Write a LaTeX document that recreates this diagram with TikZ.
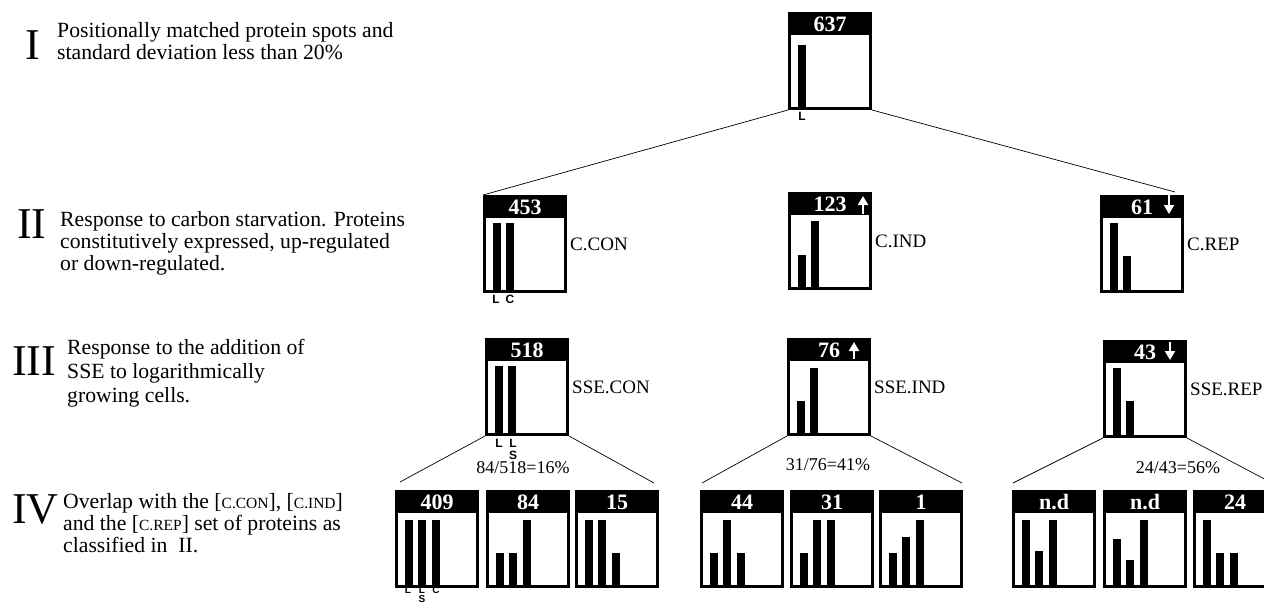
\documentclass[tikz,border=0pt]{standalone}
\usepackage{fontspec}
\setmainfont{Liberation Serif}
\setsansfont{Liberation Sans}
\usetikzlibrary{arrows.meta,positioning,calc}

\newcommand{\smc}[1]{{\fontsize{15.5}{15.5}\selectfont #1}}
% box with black header, number and bars (heights in px)
\newcommand{\protbox}[4]{%
  \node[pbox] (#1) at (#2) {};
  \fill (#1.north west) rectangle ($(#1.north east)+(0,23)$);
  \node[headtxt] (#1h) at ($(#1.north)+(0,19.5)$) {#3};
  \foreach \h [count=\i] in {#4}
    \fill ($(#1.south west)+(13.5*\i-4,0)$) rectangle ++(8,-\h);
}

\begin{document}
\begin{tikzpicture}[x=1pt, y=-1pt,
  pbox/.style={draw, line width=3pt, minimum width=81pt, minimum height=95pt, inner sep=0pt, anchor=north west},
  headtxt/.style={text=white, font=\bfseries\fontsize{22}{22}\selectfont, inner sep=0pt, anchor=base},
  harrow/.style={white, line width=2pt, -{Triangle[width=10pt,length=9pt]}},
  numeral/.style={font=\fontsize{44}{44}\selectfont, inner sep=0pt, anchor=base west},
  desc/.style={align=left, font=\fontsize{21.7}{22}\selectfont, inner sep=0pt, anchor=north west},
  side/.style={font=\fontsize{19}{19}\selectfont, inner sep=0pt},
  ratio/.style={font=\fontsize{18}{18}\selectfont, inner sep=0pt},
  tick/.style={font=\sffamily\bfseries\fontsize{12}{12}\selectfont, inner sep=0pt},
  smalltick/.style={tick, font=\sffamily\bfseries\fontsize{10}{10}\selectfont},
  link/.style={line width=0.7pt}]
  \useasboundingbox (0,0) rectangle (1264,603);
  \clip (0,0) rectangle (1264,603);

  % level texts
  \node[numeral] (lvI) at (25,59) {I};
  \node[desc] (txI) at (57,22) {Positionally matched protein spots and\\standard deviation less than 20\%};
  \node[numeral] (lvII) at (17,238) {II};
  \node[desc] (txII) at (60,211) {Response to carbon starvation. Proteins\\constitutively expressed, up-regulated\\or down-regulated.};
  \node[numeral] (lvIII) at (12,375) {III};
  \node[desc, font=\fontsize{21.7}{24}\selectfont] (txIII) at (67,339) {Response to the addition of\\SSE to logarithmically\\growing cells.};
  \node[numeral] (lvIV) at (12,523) {IV};
  \node[desc] (txIV) at (63,493) {Overlap with the [\smc{C.CON}], [\smc{C.IND}]\\and the [\smc{C.REP}] set of proteins as\\classified in\ \ II.};

  % level I
  \protbox{b637}{788,12}{637}{65}
  \node[tick] (t637) at (802,116) {L};

  % level II
  \protbox{b453}{483,195}{453}{70,70}
  \protbox{b123}{788,192}{123}{35,69}
  \protbox{b61}{1100,195}{61}{70,37}
  \draw[harrow] ($(b123.north east)+(-9,22)$) -- ++(0,-18);
  \draw[harrow] ($(b61.north east)+(-15,-4)$) -- ++(0,23);
  \node[side, right=3pt of b453] (l453) {C.CON};
  \node[side, right=3pt of b123] (l123) {C.IND};
  \node[side, right=3pt of b61] (l61) {C.REP};
  \node[tick] (t453a) at (496,299) {L};
  \node[tick] (t453b) at (510,299) {C};

  % level III
  \protbox{b518}{485,338}{518}{70,70}
  \protbox{b76}{787,338}{76}{35,68}
  \protbox{b43}{1103,340}{43}{70,37}
  \draw[harrow] ($(b76.north east)+(-17,21)$) -- ++(0,-17);
  \draw[harrow] ($(b43.north east)+(-17,2)$) -- ++(0,18);
  \node[side, right=3pt of b518] (l518) {SSE.CON};
  \node[side, right=3pt of b76] (l76) {SSE.IND};
  \node[side, right=3pt of b43] (l43) {SSE.REP};
  \node[tick] (t518a) at (499,443) {L};
  \node[tick] (t518b) at (513,443) {L};
  \node[tick] (t518c) at (513,455) {S};

  % level IV
  \protbox{b409}{395,490}{409}{68,68,68}
  \protbox{b84}{486,490}{84}{35,35,68}
  \protbox{b15}{575,490}{15}{68,68,35}
  \protbox{b44}{700,490}{44}{35,68,35}
  \protbox{b31}{790,490}{31}{35,68,68}
  \protbox{b1}{879,490}{1}{35,51,68}
  \protbox{bnda}{1012,490}{n.d}{68,37,68}
  \protbox{bndb}{1103,490}{n.d}{49,28,68}
  \protbox{b24}{1193,490}{24}{68,35,35}
  \node[smalltick] (t409a) at (408,590.5) {L};
  \node[smalltick] (t409b) at (422,590.5) {L};
  \node[smalltick] (t409c) at (422,599.3) {S};
  \node[smalltick] (t409d) at (436,590.5) {C};
  \node[ratio] (r518) at (523,468) {84/518=16\%};
  \node[ratio] (r76) at (828,465) {31/76=41\%};
  \node[ratio] (r43) at (1178,468) {24/43=56\%};

  % connectors
  \draw[link] (b637.south west) -- (b453.north west);
  \draw[link] (b637.south east) -- ($(b61.north east)+(-9,-3)$);
  \draw[link] (b518.south west) -- ($(b409.north west)+(5,-8)$);
  \draw[link] (b518.south east) -- ($(b15.north east)+(-5,-7)$);
  \draw[link] (b76.south west) -- ($(b44.north west)+(2,-7)$);
  \draw[link] (b76.south east) -- ($(b1.north east)+(-1,-7)$);
  \draw[link] (b43.south west) -- ($(bnda.north west)+(1,-7)$);
  \draw[link] (b43.south east) -- ($(b24.north east)+(-5,-7)$);
\end{tikzpicture}
\end{document}
